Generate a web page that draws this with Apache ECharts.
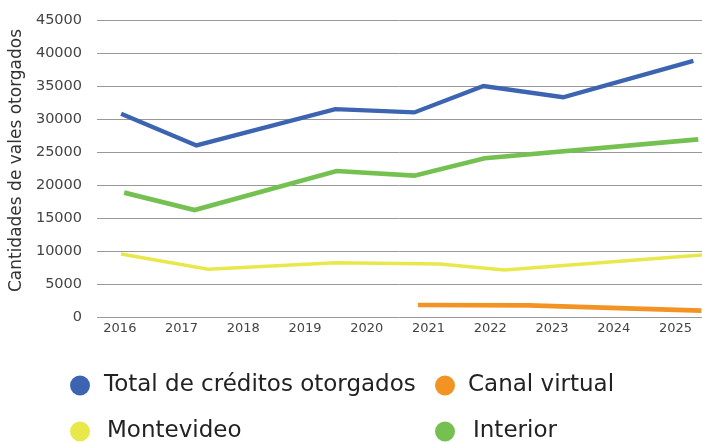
<!DOCTYPE html>
<html><head><meta charset="utf-8">
<script src="https://cdn.jsdelivr.net/npm/echarts@6/dist/echarts.min.js"></script>
<style>html,body{margin:0;padding:0;background:#fff}#c{width:702px;height:442px}</style>
</head><body><div id="c"></div>
<script>
const yearLabels = [2016, 2017, 2018, 2019, 2020, 2021, 2022, 2023, 2024, 2025];
const seriesNames = ['Total de créditos otorgados', 'Canal virtual', 'Montevideo', 'Interior'];

const totalX = [2016.02, 2017.24, 2019.49, 2020.77, 2021.89, 2023.18, 2025.29];
const totalY = [30800, 26000, 31500, 31000, 35000, 33300, 38800];

const canalX = [2020.83, 2022.62, 2025.42];
const canalY = [1820, 1770, 960];

const montevideoX = [2016.02, 2017.43, 2019.49, 2021.18, 2022.23, 2025.43];
const montevideoY = [9550, 7230, 8230, 8030, 7120, 9390];

const interiorX = [2016.07, 2017.21, 2019.51, 2020.77, 2021.91, 2025.37];
const interiorY = [18840, 16210, 22120, 21410, 24050, 26920];

const colors = ['#3D64B1', '#F39324', '#E9E84B', '#74C151'];
const widths = [4.3, 4.7, 3.4, 4.7];

function pairs(xs, ys) { return xs.map((x, i) => [x, ys[i]]); }
const dataSets = [pairs(totalX, totalY), pairs(canalX, canalY), pairs(montevideoX, montevideoY), pairs(interiorX, interiorY)];

const font = 'DejaVu Sans';
const chart = echarts.init(document.getElementById('c'), null, {renderer: 'canvas'});

function legendAt(name, left, top, gap) {
  return {
    data: [name], left: left, top: top, padding: 0, icon: 'circle',
    itemWidth: 20, itemHeight: 20, selectedMode: false,
    textStyle: {fontFamily: font, fontSize: 23, color: '#222', padding: [0, 0, 0, gap]}
  };
}

chart.setOption({
  animation: false,
  backgroundColor: '#fff',
  grid: {left: 93, right: 0, top: 20, bottom: 125, containLabel: false},
  xAxis: {
    type: 'value', min: 2015.63, max: 2025.43,
    axisLine: {show: false}, axisTick: {show: false}, splitLine: {show: false},
    axisLabel: {
      customValues: yearLabels, formatter: v => String(Math.round(v)),
      fontFamily: font, fontSize: 13, color: '#444', margin: 5
    }
  },
  yAxis: {
    type: 'value', min: 0, max: 45000, interval: 5000,
    axisLine: {show: false}, axisTick: {show: false},
    splitLine: {lineStyle: {color: '#999', width: 1}},
    axisLabel: {fontFamily: font, fontSize: 14.5, color: '#444', margin: 15, formatter: v => String(v)},
    name: 'Cantidades de vales otorgados', nameLocation: 'middle', nameGap: 70, nameRotate: 90,
    nameTextStyle: {fontFamily: font, fontSize: 17, color: '#333', padding: [0, 0, 0, 16]}
  },
  legend: [
    legendAt(seriesNames[0], 70, 374, 9),
    legendAt(seriesNames[1], 435, 374, 8),
    legendAt(seriesNames[2], 70, 420, 12),
    legendAt(seriesNames[3], 435, 420, 13)
  ],
  series: seriesNames.map((n, i) => ({
    name: n, type: 'line', data: dataSets[i], showSymbol: false, symbol: 'none',
    itemStyle: {color: colors[i]},
    lineStyle: {color: colors[i], width: widths[i], cap: 'butt', join: 'miter'}
  }))
});
</script></body></html>
